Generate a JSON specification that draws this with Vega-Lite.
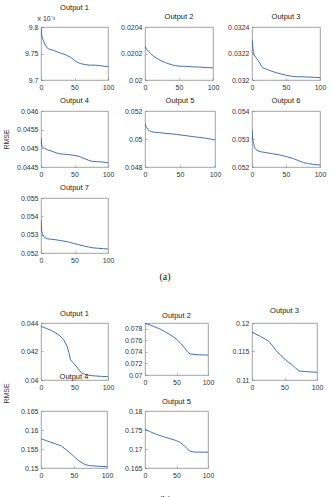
{
  "$schema": "https://vega.github.io/schema/vega-lite/v6.json",
  "padding": {"left": 1, "top": 3, "right": 0, "bottom": 0},
  "background": "white",
  "columns": 3,
  "bounds": "flush",
  "spacing": {"row": 31, "column": 37},
  "center": {"row": true, "column": false},
  "datasets": {
    "A1": [{"iter":0,"rmse":0.009799},{"iter":1,"rmse":0.009785},{"iter":2,"rmse":0.00978},{"iter":3,"rmse":0.009776},{"iter":5,"rmse":0.00977},{"iter":6.5,"rmse":0.009766},{"iter":9,"rmse":0.009761},{"iter":11,"rmse":0.009759},{"iter":15,"rmse":0.009757},{"iter":19,"rmse":0.009756},{"iter":24,"rmse":0.009753},{"iter":29,"rmse":0.009751},{"iter":36,"rmse":0.009748},{"iter":44,"rmse":0.009743},{"iter":51,"rmse":0.009736},{"iter":55,"rmse":0.009733},{"iter":59,"rmse":0.009731},{"iter":66,"rmse":0.009729},{"iter":73,"rmse":0.009728},{"iter":81,"rmse":0.009728},{"iter":88,"rmse":0.009727},{"iter":94,"rmse":0.009726},{"iter":100,"rmse":0.009725}],
    "A2": [{"iter":0,"rmse":0.020255},{"iter":2,"rmse":0.020235},{"iter":4,"rmse":0.020222},{"iter":5,"rmse":0.020218},{"iter":8,"rmse":0.0202},{"iter":12,"rmse":0.020182},{"iter":16,"rmse":0.020168},{"iter":20,"rmse":0.020156},{"iter":25,"rmse":0.020142},{"iter":30,"rmse":0.020131},{"iter":35,"rmse":0.020122},{"iter":40,"rmse":0.020114},{"iter":45,"rmse":0.020108},{"iter":50,"rmse":0.020105},{"iter":60,"rmse":0.020103},{"iter":65,"rmse":0.020102},{"iter":70,"rmse":0.020099},{"iter":79,"rmse":0.020098},{"iter":90,"rmse":0.020094},{"iter":100,"rmse":0.020092}],
    "A3": [{"iter":0,"rmse":0.032305},{"iter":1,"rmse":0.03226},{"iter":2,"rmse":0.032205},{"iter":3,"rmse":0.03219},{"iter":6,"rmse":0.032168},{"iter":9,"rmse":0.032148},{"iter":11,"rmse":0.03213},{"iter":14,"rmse":0.032105},{"iter":16,"rmse":0.032092},{"iter":20,"rmse":0.032084},{"iter":26,"rmse":0.032072},{"iter":31,"rmse":0.032063},{"iter":36,"rmse":0.032055},{"iter":44,"rmse":0.032044},{"iter":51,"rmse":0.032035},{"iter":58,"rmse":0.032029},{"iter":65,"rmse":0.032025},{"iter":75,"rmse":0.032024},{"iter":85,"rmse":0.032022},{"iter":92,"rmse":0.03202},{"iter":100,"rmse":0.032018}],
    "A4": [{"iter":0,"rmse":0.045281},{"iter":1,"rmse":0.0451},{"iter":2,"rmse":0.045045},{"iter":4,"rmse":0.045015},{"iter":6,"rmse":0.044994},{"iter":10,"rmse":0.044958},{"iter":16,"rmse":0.044922},{"iter":21,"rmse":0.04489},{"iter":26,"rmse":0.04486},{"iter":33,"rmse":0.044845},{"iter":41,"rmse":0.044833},{"iter":48,"rmse":0.044815},{"iter":56,"rmse":0.044788},{"iter":61,"rmse":0.044755},{"iter":66,"rmse":0.044716},{"iter":71,"rmse":0.04468},{"iter":76,"rmse":0.044653},{"iter":85,"rmse":0.044642},{"iter":91,"rmse":0.044635},{"iter":96,"rmse":0.044622},{"iter":100,"rmse":0.044608}],
    "A5": [{"iter":0,"rmse":0.0511},{"iter":1,"rmse":0.05095},{"iter":2,"rmse":0.05082},{"iter":4,"rmse":0.05069},{"iter":6,"rmse":0.0506},{"iter":9,"rmse":0.050524},{"iter":14,"rmse":0.05048},{"iter":21,"rmse":0.05045},{"iter":30,"rmse":0.0504},{"iter":45,"rmse":0.05033},{"iter":57,"rmse":0.05025},{"iter":69,"rmse":0.050167},{"iter":80,"rmse":0.0501},{"iter":88,"rmse":0.05005},{"iter":95,"rmse":0.04998},{"iter":100,"rmse":0.04993}],
    "A6": [{"iter":0,"rmse":0.053345},{"iter":1,"rmse":0.053},{"iter":2,"rmse":0.05285},{"iter":4,"rmse":0.05269},{"iter":6,"rmse":0.05262},{"iter":9,"rmse":0.052571},{"iter":14,"rmse":0.05254},{"iter":21,"rmse":0.052512},{"iter":30,"rmse":0.052475},{"iter":41,"rmse":0.052429},{"iter":51,"rmse":0.05237},{"iter":61,"rmse":0.052298},{"iter":68,"rmse":0.05223},{"iter":76,"rmse":0.052155},{"iter":83,"rmse":0.05212},{"iter":90,"rmse":0.052095},{"iter":100,"rmse":0.052071}],
    "A7": [{"iter":0,"rmse":0.053818},{"iter":1,"rmse":0.05322},{"iter":2,"rmse":0.05305},{"iter":4,"rmse":0.05292},{"iter":6.5,"rmse":0.052818},{"iter":10,"rmse":0.05277},{"iter":15,"rmse":0.05275},{"iter":21,"rmse":0.052727},{"iter":31,"rmse":0.05267},{"iter":41,"rmse":0.0526},{"iter":48,"rmse":0.05253},{"iter":56,"rmse":0.052455},{"iter":63,"rmse":0.05239},{"iter":71,"rmse":0.052327},{"iter":78,"rmse":0.05228},{"iter":86,"rmse":0.052255},{"iter":93,"rmse":0.052235},{"iter":100,"rmse":0.052218}],
    "B1": [{"iter":0,"rmse":0.043765},{"iter":8,"rmse":0.04362},{"iter":16,"rmse":0.04346},{"iter":21,"rmse":0.04333},{"iter":26,"rmse":0.043176},{"iter":30,"rmse":0.04302},{"iter":34,"rmse":0.042824},{"iter":39,"rmse":0.042353},{"iter":42,"rmse":0.04185},{"iter":44,"rmse":0.041412},{"iter":47,"rmse":0.04125},{"iter":51,"rmse":0.04106},{"iter":56,"rmse":0.04076},{"iter":61,"rmse":0.040471},{"iter":65,"rmse":0.0404},{"iter":69,"rmse":0.040353},{"iter":75,"rmse":0.04031},{"iter":81,"rmse":0.040284},{"iter":90,"rmse":0.040255},{"iter":100,"rmse":0.040235}],
    "B2": [{"iter":0,"rmse":0.0789},{"iter":7,"rmse":0.0787},{"iter":15,"rmse":0.07835},{"iter":23,"rmse":0.078},{"iter":30,"rmse":0.07759},{"iter":38,"rmse":0.0771},{"iter":46,"rmse":0.07654},{"iter":52,"rmse":0.076},{"iter":57,"rmse":0.07543},{"iter":62,"rmse":0.0748},{"iter":67,"rmse":0.07409},{"iter":70,"rmse":0.07375},{"iter":73,"rmse":0.07362},{"iter":83,"rmse":0.0735},{"iter":100,"rmse":0.07345}],
    "B3": [{"iter":0,"rmse":0.11841},{"iter":6,"rmse":0.11805},{"iter":13,"rmse":0.11765},{"iter":20,"rmse":0.1172},{"iter":26,"rmse":0.11676},{"iter":31,"rmse":0.1161},{"iter":36,"rmse":0.1153},{"iter":42,"rmse":0.11455},{"iter":49,"rmse":0.11382},{"iter":55,"rmse":0.1132},{"iter":62,"rmse":0.11265},{"iter":67,"rmse":0.1121},{"iter":72,"rmse":0.11159},{"iter":82,"rmse":0.11147},{"iter":100,"rmse":0.11135}],
    "B4": [{"iter":0,"rmse":0.15771},{"iter":7,"rmse":0.15725},{"iter":14,"rmse":0.15683},{"iter":22,"rmse":0.15635},{"iter":31,"rmse":0.15577},{"iter":37,"rmse":0.15495},{"iter":44,"rmse":0.154},{"iter":49,"rmse":0.1532},{"iter":54,"rmse":0.15238},{"iter":59,"rmse":0.1517},{"iter":64,"rmse":0.15115},{"iter":69,"rmse":0.1508},{"iter":74,"rmse":0.15062},{"iter":85,"rmse":0.15048},{"iter":100,"rmse":0.15035}],
    "B5": [{"iter":0,"rmse":0.17518},{"iter":9,"rmse":0.1745},{"iter":18,"rmse":0.17385},{"iter":29,"rmse":0.17325},{"iter":40,"rmse":0.17271},{"iter":48,"rmse":0.1723},{"iter":55,"rmse":0.17182},{"iter":59,"rmse":0.1713},{"iter":63,"rmse":0.17076},{"iter":67,"rmse":0.1701},{"iter":71,"rmse":0.16944},{"iter":76,"rmse":0.16925},{"iter":82,"rmse":0.16917},{"iter":100,"rmse":0.16917}]
  },
  "concat": [
    {"data": {"name": "A1"}, "width": 67, "height": 53, "title": {"text": "Output 1", "color": "#1a1a1a"},
     "mark": {"type": "line", "color": "#2f5fb0", "strokeWidth": 0.9, "clip": true},
     "encoding": {
       "x": {"field": "iter", "type": "quantitative", "scale": {"domain": [0, 100], "nice": false}, "axis": {"values": [0, 50, 100], "title": null}},
       "y": {"field": "rmse", "type": "quantitative", "scale": {"domain": [0.0097, 0.0098], "nice": false, "zero": false},
             "axis": {"values": [0.0097, 0.00975, 0.0098], "labelExpr": "format(datum.value*1000, '~g')", "title": "x 10⁻³", "titleAngle": 0, "titleAlign": "left", "titleBaseline": "alphabetic", "titleX": -4, "titleY": -7}}
     }},
    {"data": {"name": "A2"}, "width": 68, "height": 53, "title": {"text": "Output 2", "color": "#1a1a1a"},
     "mark": {"type": "line", "color": "#2f5fb0", "strokeWidth": 0.9, "clip": true},
     "encoding": {
       "x": {"field": "iter", "type": "quantitative", "scale": {"domain": [0, 100], "nice": false}, "axis": {"values": [0, 50, 100], "title": null}},
       "y": {"field": "rmse", "type": "quantitative", "scale": {"domain": [0.02, 0.0204], "nice": false, "zero": false},
             "axis": {"values": [0.02, 0.0202, 0.0204], "format": "~g", "title": null}}
     }},
    {"data": {"name": "A3"}, "width": 68, "height": 53, "title": {"text": "Output 3", "color": "#1a1a1a"},
     "mark": {"type": "line", "color": "#2f5fb0", "strokeWidth": 0.9, "clip": true},
     "encoding": {
       "x": {"field": "iter", "type": "quantitative", "scale": {"domain": [0, 100], "nice": false}, "axis": {"values": [0, 50, 100], "title": null}},
       "y": {"field": "rmse", "type": "quantitative", "scale": {"domain": [0.032, 0.0324], "nice": false, "zero": false},
             "axis": {"values": [0.032, 0.0322, 0.0324], "format": "~g", "title": null}}
     }},
    {"data": {"name": "A4"}, "width": 67, "height": 56, "title": {"text": "Output 4", "color": "#1a1a1a"},
     "mark": {"type": "line", "color": "#2f5fb0", "strokeWidth": 0.9, "clip": true},
     "encoding": {
       "x": {"field": "iter", "type": "quantitative", "scale": {"domain": [0, 100], "nice": false}, "axis": {"values": [0, 50, 100], "title": null}},
       "y": {"field": "rmse", "type": "quantitative", "scale": {"domain": [0.0445, 0.046], "nice": false, "zero": false},
             "axis": {"values": [0.0445, 0.045, 0.0455, 0.046], "format": "~g", "title": "RMSE", "minExtent": 30, "maxExtent": 30, "titlePadding": 2}}
     }},
    {"data": {"name": "A5"}, "width": 70, "height": 56, "title": {"text": "Output 5", "color": "#1a1a1a"},
     "mark": {"type": "line", "color": "#2f5fb0", "strokeWidth": 0.9, "clip": true},
     "encoding": {
       "x": {"field": "iter", "type": "quantitative", "scale": {"domain": [0, 100], "nice": false}, "axis": {"values": [0, 50, 100], "title": null}},
       "y": {"field": "rmse", "type": "quantitative", "scale": {"domain": [0.048, 0.052], "nice": false, "zero": false},
             "axis": {"values": [0.048, 0.05, 0.052], "format": "~g", "title": null}}
     }},
    {"data": {"name": "A6"}, "width": 68, "height": 56, "title": {"text": "Output 6", "color": "#1a1a1a"},
     "mark": {"type": "line", "color": "#2f5fb0", "strokeWidth": 0.9, "clip": true},
     "encoding": {
       "x": {"field": "iter", "type": "quantitative", "scale": {"domain": [0, 100], "nice": false}, "axis": {"values": [0, 50, 100], "title": null}},
       "y": {"field": "rmse", "type": "quantitative", "scale": {"domain": [0.052, 0.054], "nice": false, "zero": false},
             "axis": {"values": [0.052, 0.053, 0.054], "format": "~g", "title": null}}
     }},
    {"data": {"name": "A7"}, "width": 67, "height": 55, "title": {"text": "Output 7", "color": "#1a1a1a"},
     "mark": {"type": "line", "color": "#2f5fb0", "strokeWidth": 0.9, "clip": true},
     "encoding": {
       "x": {"field": "iter", "type": "quantitative", "scale": {"domain": [0, 100], "nice": false}, "axis": {"values": [0, 50, 100], "title": null}},
       "y": {"field": "rmse", "type": "quantitative", "scale": {"domain": [0.052, 0.055], "nice": false, "zero": false},
             "axis": {"values": [0.052, 0.053, 0.054, 0.055], "format": "~g", "title": null}}
     }},
    {"width": 1, "height": 1, "data": {"values": []}, "mark": "point", "view": {"stroke": null}},
    {"width": 1, "height": 1, "data": {"values": []}, "mark": "point", "view": {"stroke": null}},
    {"width": 1, "height": 8, "data": {"values": []}, "mark": "point", "view": {"stroke": null}},
    {"width": 40, "height": 8, "data": {"values": []}, "mark": "point", "view": {"stroke": null},
     "title": {"text": "(a)", "orient": "top", "offset": 2, "font": "Liberation Serif", "fontSize": 10, "color": "#111", "anchor": "middle"}},
    {"width": 1, "height": 8, "data": {"values": []}, "mark": "point", "view": {"stroke": null}},
    {"data": {"name": "B1"}, "width": 67, "height": 57, "title": {"text": "Output 1", "offset": 2, "color": "#1a1a1a"},
     "mark": {"type": "line", "color": "#2f5fb0", "strokeWidth": 0.9, "clip": true},
     "encoding": {
       "x": {"field": "iter", "type": "quantitative", "scale": {"domain": [0, 100], "nice": false}, "axis": {"values": [0, 50, 100], "title": null}},
       "y": {"field": "rmse", "type": "quantitative", "scale": {"domain": [0.04, 0.044], "nice": false, "zero": false},
             "axis": {"values": [0.04, 0.042, 0.044], "format": "~g", "title": null}}
     }},
    {"data": {"name": "B2"}, "width": 63, "height": 52, "title": {"text": "Output 2", "offset": 4, "color": "#1a1a1a"},
     "mark": {"type": "line", "color": "#2f5fb0", "strokeWidth": 0.9, "clip": true},
     "encoding": {
       "x": {"field": "iter", "type": "quantitative", "scale": {"domain": [0, 100], "nice": false}, "axis": {"values": [0, 50, 100], "title": null}},
       "y": {"field": "rmse", "type": "quantitative", "scale": {"domain": [0.07, 0.079], "nice": false, "zero": false},
             "axis": {"values": [0.07, 0.072, 0.074, 0.076, 0.078], "format": "~g", "title": null}}
     }},
    {"data": {"name": "B3"}, "width": 65, "height": 57, "title": {"text": "Output 3", "offset": 5, "color": "#1a1a1a"},
     "mark": {"type": "line", "color": "#2f5fb0", "strokeWidth": 0.9, "clip": true},
     "encoding": {
       "x": {"field": "iter", "type": "quantitative", "scale": {"domain": [0, 100], "nice": false}, "axis": {"values": [0, 50, 100], "title": null}},
       "y": {"field": "rmse", "type": "quantitative", "scale": {"domain": [0.11, 0.12], "nice": false, "zero": false},
             "axis": {"values": [0.11, 0.115, 0.12], "format": "~g", "title": null}}
     }},
    {"data": {"name": "B4"}, "width": 66, "height": 57, "title": {"text": "Output 4", "offset": 2, "color": "#1a1a1a"},
     "mark": {"type": "line", "color": "#2f5fb0", "strokeWidth": 0.9, "clip": true},
     "encoding": {
       "x": {"field": "iter", "type": "quantitative", "scale": {"domain": [0, 100], "nice": false}, "axis": {"values": [0, 50, 100], "title": null}},
       "y": {"field": "rmse", "type": "quantitative", "scale": {"domain": [0.15, 0.165], "nice": false, "zero": false},
             "axis": {"values": [0.15, 0.155, 0.16, 0.165], "format": "~g", "title": "RMSE", "minExtent": 30, "maxExtent": 30, "titlePadding": 2, "titleY": -18}}
     }},
    {"data": {"name": "B5"}, "width": 63, "height": 57, "title": {"text": "Output 5", "offset": 2, "color": "#1a1a1a"},
     "mark": {"type": "line", "color": "#2f5fb0", "strokeWidth": 0.9, "clip": true},
     "encoding": {
       "x": {"field": "iter", "type": "quantitative", "scale": {"domain": [0, 100], "nice": false}, "axis": {"values": [0, 50, 100], "title": null}},
       "y": {"field": "rmse", "type": "quantitative", "scale": {"domain": [0.165, 0.18], "nice": false, "zero": false},
             "axis": {"values": [0.165, 0.17, 0.175, 0.18], "format": "~g", "title": null}}
     }},
    {"width": 1, "height": 1, "data": {"values": []}, "mark": "point", "view": {"stroke": null}},
    {"width": 1, "height": 1, "data": {"values": []}, "mark": "point", "view": {"stroke": null}},
    {"width": 40, "height": 1, "data": {"values": []}, "mark": "point", "view": {"stroke": null},
     "title": {"text": "(b)", "orient": "bottom", "offset": -5, "font": "Liberation Serif", "fontSize": 10, "color": "#111", "anchor": "middle"}}
  ],
  "config": {
    "font": "Liberation Sans",
    "view": {"stroke": "#8c8c8c", "strokeWidth": 0.8},
    "axis": {"domain": false, "grid": false, "ticks": true, "tickSize": -2, "tickColor": "#777", "tickWidth": 0.6,
             "labelFontSize": 7, "labelColor": "#333", "labelPadding": 5, "labelFlush": false, "labelOverlap": false,
             "titleFontSize": 7, "titleFontWeight": "normal", "titleColor": "#333"},
    "title": {"fontSize": 7.5, "fontWeight": "normal", "color": "#1a1a1a", "offset": 3, "font": "Liberation Sans"}
  }
}
